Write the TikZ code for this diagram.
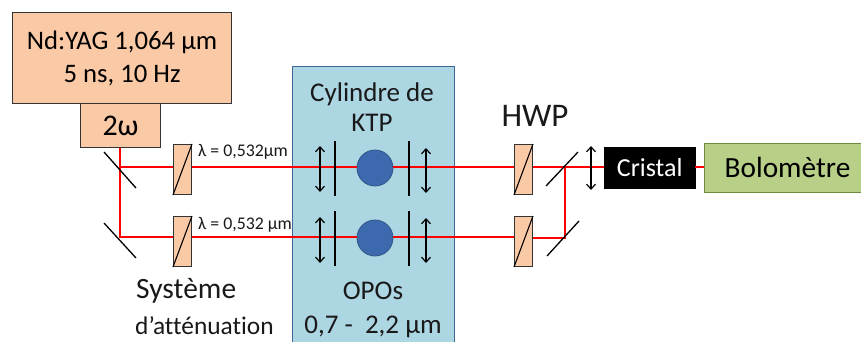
\documentclass[tikz,border=0pt]{standalone}
\usepackage{fontspec}
\setmainfont[Ligatures=NoCommon]{Carlito}
\usetikzlibrary{arrows.meta}
\definecolor{peach}{HTML}{FAC9A5}
\definecolor{panel}{HTML}{ADD6E3}
\definecolor{panelb}{HTML}{3F6797}
\definecolor{ball}{HTML}{3D6AAE}
\definecolor{ballb}{HTML}{2F5688}
\definecolor{green1}{HTML}{B8CF88}
\definecolor{greenb}{HTML}{6F8A3E}
\tikzset{
 box/.style={draw=black!80,line width=1.1pt,fill=peach,inner sep=0pt,align=center},
 wave/.style={draw=black!80,line width=1pt,fill=peach,minimum width=18pt,minimum height=50pt,inner sep=0pt},
 beam/.style={draw=red,line width=1.4pt},
 mirror/.style={draw=black,line width=1.3pt},
 plate/.style={draw=black,line width=1.5pt},
 lens/.style={draw=black,line width=1.2pt,{Straight Barb[length=5pt,width=9pt]}-{Straight Barb[length=5pt,width=9pt]}},
 ballnode/.style={circle,draw=ballb,line width=.8pt,fill=ball,minimum size=36pt,inner sep=0pt},
 lbl/.style={text=black!90,inner sep=0pt,align=center},
 small/.style={lbl,font=\fontsize{17.8}{20}\selectfont},
 big/.style={lbl,font=\fontsize{27}{34}\selectfont}
}
\begin{document}
\begin{tikzpicture}[x=1pt,y=-1pt]
\useasboundingbox (0,0) rectangle (861,342);
\clip (0,0) rectangle (861,342);
% panel
\node[draw=panelb,line width=1pt,fill=panel,minimum width=162pt,minimum height=290pt,inner sep=0pt,anchor=north west] (panel) at (292,66) {};
% coordinates on beams
\coordinate (m1) at (120,167);
\coordinate (m2) at (120,237);
\coordinate (m3) at (565,167);
\coordinate (m4) at (565,238);
% nodes
\node[box,minimum width=219pt,minimum height=91pt,anchor=north west,font=\fontsize{26.7}{33}\selectfont] (laser) at (12,12) {Nd:YAG 1,064 µm\\5 ns, 10 Hz};
\node[box,minimum width=80pt,minimum height=44pt,anchor=north west,font=\fontsize{30}{32}\selectfont] (shg) at (80,103) {2ω};
\node[wave,anchor=north west] (p1) at (173,144) {};
\node[wave,anchor=north west] (p2) at (173,216) {};
\node[wave,anchor=north west] (h1) at (514,144) {};
\node[wave,anchor=north west] (h2) at (514,216) {};
\node[ballnode] (b1) at (375,168) {};
\node[ballnode] (b2) at (375,238) {};
\node[draw=black,fill=black,text=white,minimum width=91pt,minimum height=41pt,inner sep=0pt,anchor=north west,font=\fontsize{26}{28}\selectfont] (cris) at (604,147) {Cristal};
\node[draw=greenb,line width=1pt,fill=green1,minimum width=157pt,minimum height=49pt,inner sep=0pt,anchor=north west,font=\fontsize{29.3}{32}\selectfont] (bolo) at (704,142.500) {\hspace*{9pt}Bolomètre};
% beams
\draw[beam] (shg.south -| m1) -- (m2) -- (m2 -| p2.west);
\draw[beam] (m1) -- (m1 -| p1.west);
\draw[beam] (m1 -| p1.east) -- (m1 -| b1.west);
\draw[beam] (m2 -| p2.east) -- (m2 -| b2.west);
\draw[beam] (m1 -| b1.east) -- (m1 -| h1.west);
\draw[beam] (m2 -| b2.east) -- (m2 -| h2.west);
\draw[beam] (m1 -| h1.east) -- (m1 -| cris.west);
\draw[beam] (m4 -| h2.east) -- (m4) -- (m3);
\draw[beam] (m1 -| cris.east) -- (m1 -| bolo.west);
% wave-plate diagonals
\foreach \n in {p1,p2,h1,h2}{\draw[draw=black,line width=1.1pt] (\n.south west) -- (\n.north east);}
% mirrors
\coordinate (a1) at (104,152); \coordinate (a2) at (136,188);
\coordinate (a3) at (104,223); \coordinate (a4) at (136,258);
\coordinate (a5) at (546,186); \coordinate (a6) at (578,152);
\coordinate (a7) at (547,256); \coordinate (a8) at (579,221);
\draw[mirror] (a1) -- (a2);
\draw[mirror] (a3) -- (a4);
\draw[mirror] (a5) -- (a6);
\draw[mirror] (a7) -- (a8);
% plates
\coordinate (t1) at (335,141); \coordinate (t2) at (335,196);
\coordinate (t3) at (335,211); \coordinate (t4) at (335,266);
\coordinate (t5) at (409,141); \coordinate (t6) at (409,196);
\coordinate (t7) at (409,211); \coordinate (t8) at (409,266);
\draw[plate] (t1) -- (t2);
\draw[plate] (t3) -- (t4);
\draw[plate] (t5) -- (t6);
\draw[plate] (t7) -- (t8);
% lens arrows
\coordinate (l1) at (320,146); \coordinate (l2) at (320,192);
\coordinate (l3) at (320,217); \coordinate (l4) at (320,263);
\coordinate (l5) at (426,148); \coordinate (l6) at (426,193);
\coordinate (l7) at (426,218); \coordinate (l8) at (426,263);
\coordinate (l9) at (591,146); \coordinate (l10) at (591,190);
\draw[lens] (l1) -- (l2);
\draw[lens] (l3) -- (l4);
\draw[lens] (l5) -- (l6);
\draw[lens] (l7) -- (l8);
\draw[lens] (l9) -- (l10);
% labels
\node[small,anchor=west] (w1) at (198,152) {λ = 0,532µm};
\node[small,anchor=west] (w2) at (198,225) {λ = 0,532 µm};
\node[lbl,font=\fontsize{27}{30}\selectfont] (cyl) at (372,107) {Cylindre de\\KTP};
\node[lbl,font=\fontsize{33}{36}\selectfont] (hwp) at (535,116) {HWP};
\node[lbl,anchor=base west,font=\fontsize{29.5}{30}\selectfont] (sys) at (136,298) {Système};
\node[lbl,anchor=base west,font=\fontsize{25.4}{30}\selectfont] (att) at (135,334) {d’atténuation};
\node[big] (opo) at (373,310) {OPOs\\0,7 -\ \ 2,2 µm};
\end{tikzpicture}
\end{document}
